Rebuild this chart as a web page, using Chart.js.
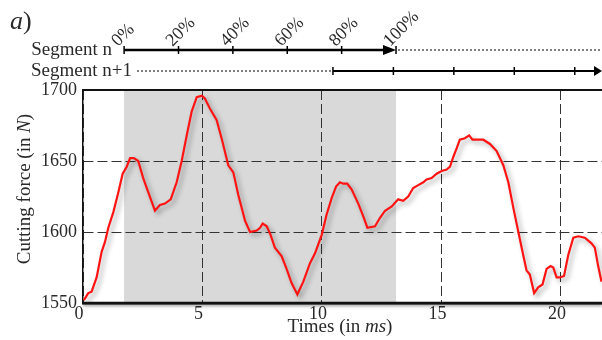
<!DOCTYPE html>
<html>
<head>
<meta charset="utf-8">
<script src="https://cdn.jsdelivr.net/npm/chart.js@4.4.1/dist/chart.umd.min.js"></script>
<style>
  html, body { margin: 0; padding: 0; background: #fff; }
  #wrap { width: 602px; height: 340px; position: relative; }
</style>
</head>
<body>
<div id="wrap"><canvas id="chart"></canvas></div>
<script>
// time samples (ms) and cutting force (N)
const times = [0.04,0.22,0.36,0.57,0.78,0.92,1.06,1.27,1.48,1.66,
  1.83,1.97,2.13,2.31,2.52,2.73,3.01,3.22,3.43,3.67,
  3.92,4.13,4.34,4.55,4.76,4.97,5.10,5.31,5.59,
  5.80,6.08,6.29,6.50,6.78,6.99,7.27,7.41,7.52,
  7.69,7.85,8.03,8.31,8.52,8.73,8.97,9.22,
  9.50,9.71,9.99,10.19,10.41,10.59,10.75,10.89,11.06,
  11.24,11.52,11.73,11.90,12.22,12.43,12.64,12.92,
  13.19,13.40,13.61,13.82,14.03,14.24,14.38,14.59,
  14.80,15.01,15.22,15.36,15.50,15.64,15.77,15.98,16.16,16.30,
  16.54,16.75,17.03,17.31,17.59,17.80,18.01,18.22,18.42,18.56,
  18.70,18.88,19.05,19.23,19.40,19.57,19.68,19.82,19.96,20.13,
  20.31,20.52,20.73,21.00,21.28,21.42,21.56,21.70];
const force = [1552,1557,1558,1568,1586,1593,1603,1614,1628,1641,
  1646,1652,1652,1650,1638,1628,1615,1619,1620,1623,
  1635,1650,1668,1685,1695,1696,1694,1687,1679,
  1666,1647,1642,1626,1608,1600,1601,1603,1606,
  1604,1598,1589,1583,1574,1564,1556,1565,
  1578,1585,1598,1612,1624,1632,1635,1634,1634,
  1630,1620,1611,1603,1604,1610,1615,1618,
  1623,1622,1625,1631,1633,1635,1637,1638,
  1641,1643,1644,1646,1653,1659,1665,1666,1668,1665,
  1665,1665,1662,1657,1647,1635,1617,1600,1584,1573,
  1570,1557,1561,1563,1574,1576,1575,1568,1568,1569,
  1584,1596,1597,1596,1592,1589,1576,1565];

const xTicks = [0, 5, 10, 15, 20];
const yTicks = [1550, 1600, 1650, 1700];

// segment n (shaded window) and segment n+1, in ms
const segN = [1.72, 13.1];
const segPercent = ['0%', '20%', '40%', '60%', '80%', '100%'];
const segNext = [10.46, 12.99, 15.52, 18.05, 20.58];

const SERIF = '"Liberation Serif", serif';
const TXT = '#2a2a2a';

// draws a run of [text, italic] pieces starting at x
function mixedText(ctx, parts, x, y, size) {
  parts.forEach(([t, it]) => {
    ctx.font = (it ? 'italic ' : '') + size + 'px ' + SERIF;
    ctx.fillText(t, x, y);
    x += ctx.measureText(t).width;
  });
}
function mixedWidth(ctx, parts, size) {
  let w = 0;
  parts.forEach(([t, it]) => {
    ctx.font = (it ? 'italic ' : '') + size + 'px ' + SERIF;
    w += ctx.measureText(t).width;
  });
  return w;
}

const shadePlugin = {
  id: 'shade',
  beforeDraw(chart) {
    const {ctx, chartArea: a, scales: {x}} = chart;
    ctx.save();
    ctx.fillStyle = '#d9d9d9';
    const x0 = x.getPixelForValue(segN[0]);
    const x1 = x.getPixelForValue(segN[1]);
    ctx.fillRect(x0, a.top, x1 - x0, a.bottom - a.top);
    ctx.restore();
  }
};

const shadowPlugin = {
  id: 'lineShadow',
  beforeDatasetDraw(chart) {
    const ctx = chart.ctx;
    ctx.save();
    ctx.shadowColor = 'rgba(0,0,0,0.35)';
    ctx.shadowBlur = 5;
    ctx.shadowOffsetX = 3;
    ctx.shadowOffsetY = 3;
  },
  afterDatasetDraw(chart) {
    chart.ctx.restore();
  }
};

const frameAndSegments = {
  id: 'frameSeg',
  afterDraw(chart) {
    const {ctx, chartArea: a, scales: {x}} = chart;
    ctx.save();
    // top frame line
    ctx.strokeStyle = '#111';
    ctx.lineWidth = 2;
    ctx.beginPath();
    ctx.moveTo(a.left, a.top);
    ctx.lineTo(a.right, a.top);
    ctx.stroke();
    // bottom axis with soft shadow
    ctx.shadowColor = 'rgba(0,0,0,0.4)';
    ctx.shadowBlur = 3;
    ctx.shadowOffsetY = 2;
    ctx.lineWidth = 2.5;
    ctx.beginPath();
    ctx.moveTo(a.left, a.bottom);
    ctx.lineTo(a.right, a.bottom);
    ctx.stroke();
    ctx.shadowColor = 'transparent';

    // axis titles (with italic units)
    ctx.fillStyle = TXT;
    ctx.textBaseline = 'middle';
    ctx.textAlign = 'left';
    const xt = [['Times (in ', false], ['ms', true], [')', false]];
    mixedText(ctx, xt, 340 - mixedWidth(ctx, xt, 19) / 2, 327, 19);
    const yt = [['Cutting force (in ', false], ['N', true], [')', false]];
    ctx.save();
    ctx.translate(25, 189);
    ctx.rotate(-Math.PI / 2);
    mixedText(ctx, yt, -mixedWidth(ctx, yt, 19) / 2, 0, 19);
    ctx.restore();

    // "a)"
    ctx.textBaseline = 'alphabetic';
    mixedText(ctx, [['a', true], [')', false]], 10, 29, 26);

    const yN = 50, yN1 = 71;
    ctx.font = '19px ' + SERIF;
    ctx.textAlign = 'right';
    ctx.textBaseline = 'middle';
    ctx.fillText('Segment n', 112, yN);
    ctx.fillText('Segment n+1', 132, yN1);

    // segment n
    const s0 = x.getPixelForValue(segN[0]);
    const s1 = x.getPixelForValue(segN[1]);
    ctx.strokeStyle = '#000';
    ctx.fillStyle = '#000';
    ctx.lineWidth = 2.5;
    ctx.beginPath();
    ctx.moveTo(s0, yN);
    ctx.lineTo(s1 - 8, yN);
    ctx.stroke();
    ctx.beginPath();
    ctx.moveTo(s1, yN);
    ctx.lineTo(s1 - 13, yN - 5);
    ctx.lineTo(s1 - 13, yN + 5);
    ctx.closePath();
    ctx.fill();
    ctx.lineWidth = 1.5;
    segPercent.forEach((lab, i) => {
      const px = s0 + (s1 - s0) * i / (segPercent.length - 1);
      ctx.beginPath();
      ctx.moveTo(px, yN - 4);
      ctx.lineTo(px, yN + 4);
      ctx.stroke();
    });
    // dotted continuation
    ctx.lineWidth = 1;
    ctx.setLineDash([2, 2]);
    ctx.beginPath();
    ctx.moveTo(s1 + 2, yN);
    ctx.lineTo(a.right, yN);
    ctx.stroke();
    const n0 = x.getPixelForValue(segNext[0]);
    ctx.beginPath();
    ctx.moveTo(137, yN1);
    ctx.lineTo(n0, yN1);
    ctx.stroke();
    ctx.setLineDash([]);

    // segment n+1
    ctx.lineWidth = 2;
    ctx.beginPath();
    ctx.moveTo(n0, yN1);
    ctx.lineTo(a.right - 4, yN1);
    ctx.stroke();
    ctx.beginPath();
    ctx.moveTo(a.right, yN1);
    ctx.lineTo(a.right - 8, yN1 - 5);
    ctx.lineTo(a.right - 8, yN1 + 5);
    ctx.closePath();
    ctx.fill();
    ctx.lineWidth = 1.5;
    segNext.forEach(v => {
      const px = x.getPixelForValue(v);
      ctx.beginPath();
      ctx.moveTo(px, yN1 - 4);
      ctx.lineTo(px, yN1 + 4);
      ctx.stroke();
    });

    // rotated percent labels
    ctx.fillStyle = TXT;
    ctx.font = '18px ' + SERIF;
    ctx.textAlign = 'left';
    ctx.textBaseline = 'alphabetic';
    segPercent.forEach((lab, i) => {
      const px = s0 + (s1 - s0) * i / (segPercent.length - 1);
      ctx.save();
      ctx.translate(px - 6, yN - 3);
      ctx.rotate(-Math.PI / 4);
      ctx.fillText(lab, 0, 0);
      ctx.restore();
    });
    ctx.restore();
  }
};

function draw() {
  new Chart(document.getElementById('chart'), {
    type: 'line',
    data: {
      datasets: [{
        data: times.map((t, i) => ({x: t, y: force[i]})),
        borderColor: '#ff1414',
        borderWidth: 2.2,
        pointRadius: 0,
        tension: 0,
        fill: false
      }]
    },
    options: {
      responsive: true,
      maintainAspectRatio: false,
      animation: false,
      layout: {padding: {top: 90, right: 0, left: 0, bottom: 0}},
      plugins: {legend: {display: false}, tooltip: {enabled: false}},
      scales: {
        x: {
          type: 'linear',
          min: 0,
          max: 21.72,
          afterBuildTicks: s => { s.ticks = xTicks.map(v => ({value: v})); },
          afterFit: s => { s.height = 37; },
          ticks: {
            color: TXT,
            font: {family: SERIF, size: 18},
            padding: 0,
            labelOffset: -4,
            maxRotation: 0,
            callback: v => String(v)
          },
          grid: {color: '#333', lineWidth: 1, drawTicks: false, tickLength: 0},
          border: {display: true, color: '#111', width: 2.5, dash: [10, 4]}
        },
        y: {
          min: 1550,
          max: 1700,
          afterBuildTicks: s => { s.ticks = yTicks.map(v => ({value: v})); },
          afterFit: s => { s.width = 83; },
          ticks: {
            color: TXT,
            font: {family: SERIF, size: 18},
            padding: 6,
            callback: v => String(v)
          },
          grid: {color: '#333', lineWidth: 1, drawTicks: false, tickLength: 0},
          border: {display: true, color: '#111', width: 1.5, dash: [10, 4]}
        }
      }
    },
    plugins: [shadePlugin, shadowPlugin, frameAndSegments]
  });
}

Promise.all([
  document.fonts.load('18px "Liberation Serif"'),
  document.fonts.load('italic 18px "Liberation Serif"')
]).then(draw, draw);
</script>
</body>
</html>
